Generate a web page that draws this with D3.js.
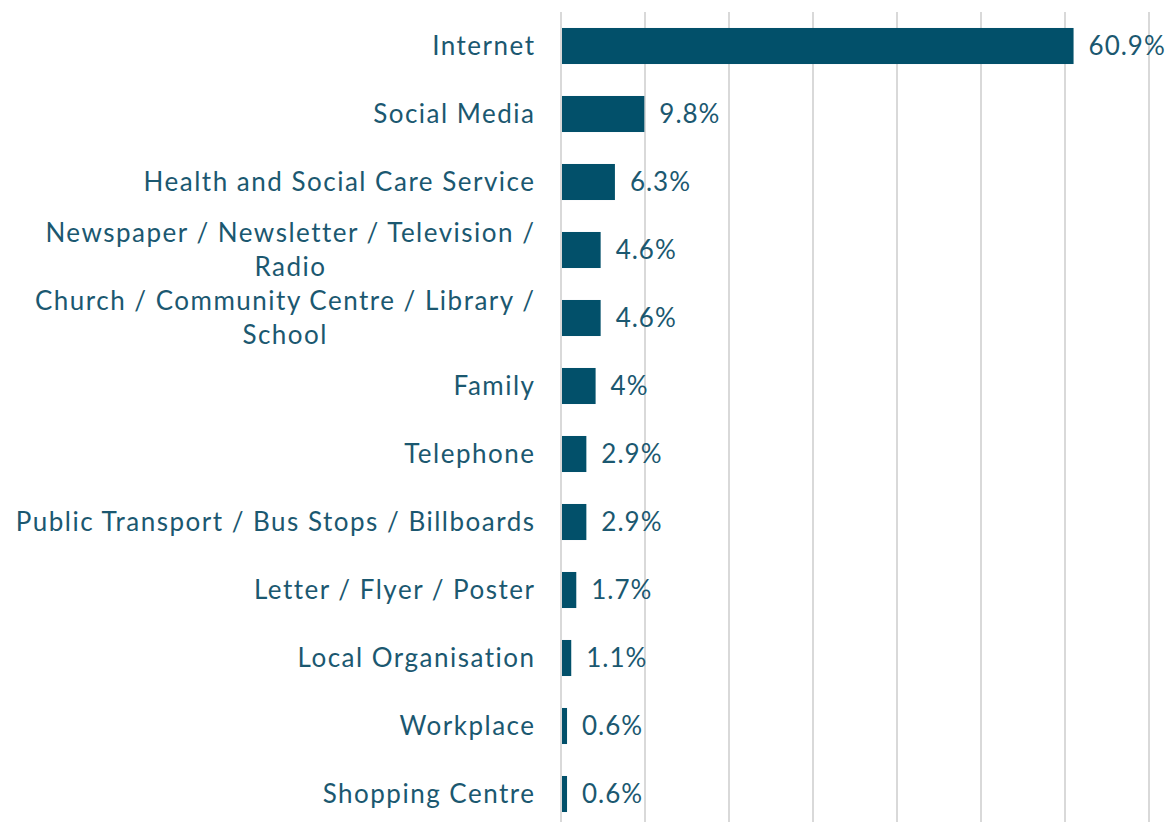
<!DOCTYPE html>
<html>
<head>
<meta charset="utf-8">
<script src="https://cdn.jsdelivr.net/npm/d3@7"></script>
<style>
  body { margin: 0; background: #fff; }
  svg { display: block; }
  text { font-family: "Century Gothic", "Lato", "DejaVu Sans", sans-serif; fill: #1b5870; }
</style>
</head>
<body>
<svg id="chart" width="1172" height="822"></svg>
<script>
// data
var categories = [
  ["Internet"],
  ["Social Media"],
  ["Health and Social Care Service"],
  ["Newspaper / Newsletter / Television /", "Radio"],
  ["Church / Community Centre / Library /", "School"],
  ["Family"],
  ["Telephone"],
  ["Public Transport / Bus Stops / Billboards"],
  ["Letter / Flyer / Poster"],
  ["Local Organisation"],
  ["Workplace"],
  ["Shopping Centre"]
];
var values = [60.9, 9.8, 6.3, 4.6, 4.6, 4, 2.9, 2.9, 1.7, 1.1, 0.6, 0.6];
var valueLabels = ["60.9%", "9.8%", "6.3%", "4.6%", "4.6%", "4%", "2.9%", "2.9%", "1.7%", "1.1%", "0.6%", "0.6%"];
var gridTicks = [0, 10, 20, 30, 40, 50, 60, 70];

var svg = d3.select("#chart");
var labelRight = 535.5;

var x = d3.scaleLinear().domain([0, 70]).range([561, 1149]);
var y = d3.scaleBand()
  .domain(d3.range(categories.length))
  .range([12, 828])
  .paddingInner(0.47)
  .paddingOuter(0.235);

// gridlines
svg.append("g").selectAll("line")
  .data(gridTicks)
  .join("line")
    .attr("x1", d => x(d)).attr("x2", d => x(d))
    .attr("y1", 12).attr("y2", 822)
    .attr("stroke", "#d9d9d9")
    .attr("stroke-width", 2);

// bars
svg.append("g").selectAll("rect")
  .data(values)
  .join("rect")
    .attr("x", x(0) + 1)
    .attr("y", (d, i) => y(i))
    .attr("width", d => x(d) - x(0))
    .attr("height", y.bandwidth())
    .attr("fill", "#02506a");

// value labels
svg.append("g").selectAll("text")
  .data(values)
  .join("text")
    .attr("x", d => x(d) + 16)
    .attr("y", (d, i) => y(i) + y.bandwidth() / 2)
    .attr("dy", "0.35em")
    .attr("font-size", 26)
    .attr("letter-spacing", 1)
    .text((d, i) => valueLabels[i]);

// category labels, wrapped ones centred under their first line
var lab = svg.append("g");
categories.forEach(function(lines, i) {
  var cy = y(i) + y.bandwidth() / 2;
  var lh = 34;
  var top = cy - (lines.length - 1) * lh / 2;
  var first = lab.append("text")
    .attr("x", labelRight)
    .attr("y", top)
    .attr("dy", "0.35em")
    .attr("text-anchor", "end")
    .attr("font-size", 26)
    .attr("letter-spacing", 1.5)
    .text(lines[0]);
  if (lines.length > 1) {
    var w = first.node().getComputedTextLength();
    lab.append("text")
      .attr("x", labelRight - w / 2)
      .attr("y", top + lh)
      .attr("dy", "0.35em")
      .attr("text-anchor", "middle")
      .attr("font-size", 26)
      .attr("letter-spacing", 1.5)
      .text(lines[1]);
  }
});
</script>
</body>
</html>
